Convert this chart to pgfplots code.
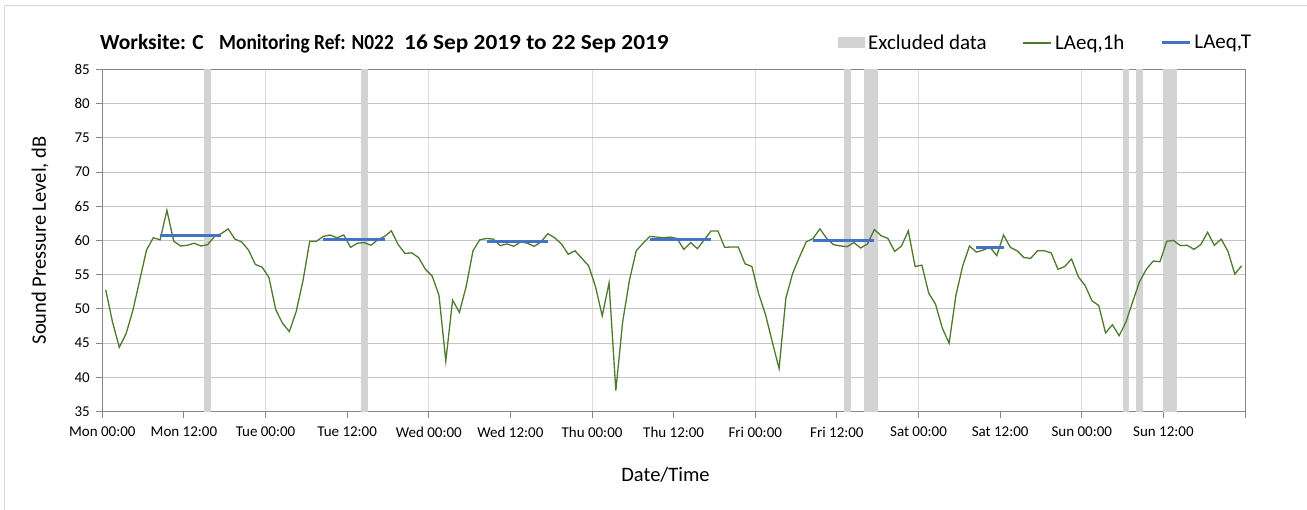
\documentclass[border=0pt]{standalone}
\usepackage{fontspec}
\setmainfont{Carlito}
\usepackage{pgfplots}
\pgfplotsset{compat=1.18}

\definecolor{lgreen}{HTML}{4E7A2C}
\definecolor{lblue}{HTML}{4472C4}
\definecolor{excl}{HTML}{D3D3D3}
\definecolor{hgrid}{HTML}{C4C4C4}
\definecolor{vgrid}{HTML}{DCDCDC}
\definecolor{axgray}{HTML}{868686}
\definecolor{frame}{HTML}{D9D9D9}

% hourly LAeq values, Mon 16 Sep 00:00 to Sun 22 Sep 24:00 (hour mid-points)
\pgfplotstableread{
h v
0.5 52.8
1.5 48.1
2.5 44.4
3.5 46.4
4.5 49.8
5.5 54.2
6.5 58.6
7.5 60.4
8.5 60.1
9.5 64.4
10.5 59.9
11.5 59.2
12.5 59.3
13.5 59.6
14.5 59.2
15.5 59.4
16.5 60.6
17.5 61.0
18.5 61.7
19.5 60.2
20.5 59.8
21.5 58.6
22.5 56.5
23.5 56.1
24.5 54.6
25.5 49.9
26.5 47.9
27.5 46.7
28.5 49.6
29.5 54.1
30.5 59.9
31.5 59.9
32.5 60.6
33.5 60.8
34.5 60.4
35.5 60.8
36.5 59.0
37.5 59.6
38.5 59.7
39.5 59.3
40.5 60.1
41.5 60.6
42.5 61.4
43.5 59.4
44.5 58.1
45.5 58.2
46.5 57.5
47.5 55.8
48.5 54.8
49.5 52.0
50.5 42.4
51.5 51.3
52.5 49.5
53.5 53.3
54.5 58.5
55.5 60.1
56.5 60.3
57.5 60.2
58.5 59.25
59.5 59.5
60.5 59.15
61.5 59.8
62.5 59.6
63.5 59.15
64.5 59.8
65.5 61.0
66.5 60.4
67.5 59.5
68.5 58.0
69.5 58.5
70.5 57.4
71.5 56.3
72.5 53.3
73.5 49.0
74.5 53.8
75.5 38.1
76.5 48.1
77.5 54.2
78.5 58.5
79.5 59.6
80.5 60.6
81.5 60.5
82.5 60.4
83.5 60.5
84.5 60.3
85.5 58.7
86.5 59.7
87.5 58.8
88.5 60.1
89.5 61.4
90.5 61.4
91.5 59.0
92.5 59.05
93.5 59.05
94.5 56.6
95.5 56.2
96.5 52.2
97.5 49.2
98.5 45.2
99.5 41.3
100.5 51.6
101.5 55.2
102.5 57.6
103.5 59.8
104.5 60.3
105.5 61.7
106.5 60.3
107.5 59.4
108.5 59.2
109.5 59.1
110.5 59.7
111.5 58.9
112.5 59.5
113.5 61.6
114.5 60.7
115.5 60.3
116.5 58.4
117.5 59.2
118.5 61.4
119.5 56.2
120.5 56.4
121.5 52.3
122.5 50.7
123.5 47.2
124.5 45.0
125.5 52.0
126.5 56.3
127.5 59.2
128.5 58.3
129.5 58.6
130.5 59.0
131.5 57.8
132.5 60.8
133.5 59.0
134.5 58.5
135.5 57.5
136.5 57.4
137.5 58.5
138.5 58.5
139.5 58.2
140.5 55.8
141.5 56.2
142.5 57.3
143.5 54.7
144.5 53.4
145.5 51.2
146.5 50.5
147.5 46.5
148.5 47.7
149.5 46.1
150.5 48.1
151.5 51.1
152.5 54.0
153.5 55.8
154.5 57.0
155.5 56.9
156.5 59.9
157.5 60.0
158.5 59.25
159.5 59.3
160.5 58.7
161.5 59.4
162.5 61.2
163.5 59.3
164.5 60.2
165.5 58.4
166.5 55.1
167.5 56.3
}\laeqhour

\begin{document}
\begin{tikzpicture}
\path[use as bounding box] (-102.3pt,-98.3pt) rectangle (1204.7pt,411.7pt);
\draw[frame, line width=1pt] (-97.3pt,-100pt) -- (-97.3pt,405.7pt) -- (1210pt,405.7pt);

\begin{axis}[
    at={(0pt,0pt)}, anchor=south west,
    scale only axis,
    width=1142.7pt, height=342.4pt,
    xmin=0, xmax=168, ymin=35, ymax=85,
    xtick={0,12,...,168},
    xticklabels={Mon 00:00,Mon 12:00,Tue 00:00,Tue 12:00,Wed 00:00,Wed 12:00,Thu 00:00,Thu 12:00,Fri 00:00,Fri 12:00,Sat 00:00,Sat 12:00,Sun 00:00,Sun 12:00,{}},
    minor xtick={24,48,...,144},
    ytick={35,40,...,85},
    xtick pos=bottom, ytick pos=left,
    tick align=outside,
    major tick length=6pt, minor tick length=0pt,
    ymajorgrids, xminorgrids,
    major grid style={hgrid, line width=1pt},
    minor grid style={vgrid, line width=1pt},
    axis line style={axgray, line width=1pt},
    every tick/.style={axgray, line width=1pt},
    /pgf/number format/assume math mode=true,
    ticklabel style={font=\fontsize{15}{18}\selectfont},
    xticklabel style={yshift=-6pt},
    yticklabel style={xshift=-3pt},
    legend columns=3,
    legend style={
        at={(0.6438,1.0768)}, anchor=west,
        draw=none, fill=none,
        font=\fontsize{21}{25}\selectfont,
        inner sep=0pt,
        nodes={inner sep=3pt},
        column sep=0pt,
        /tikz/every even column/.append style={column sep=33pt},
    },
    legend cell align=left,
]
\addplot[fill=excl, draw=none,
    legend image code/.code={\fill[excl] (0pt,-5.5pt) rectangle (27pt,5.5pt);}]
    coordinates {(15,35) (15,85) (16,85) (16,35)};
\addlegendentry{Excluded data}
\addplot[fill=excl, draw=none, forget plot] coordinates {(38,35) (38,85) (39,85) (39,35)};
\addplot[fill=excl, draw=none, forget plot] coordinates {(109,35) (109,85) (110,85) (110,35)};
\addplot[fill=excl, draw=none, forget plot] coordinates {(112,35) (112,85) (114,85) (114,35)};
\addplot[fill=excl, draw=none, forget plot] coordinates {(150,35) (150,85) (151,85) (151,35)};
\addplot[fill=excl, draw=none, forget plot] coordinates {(152,35) (152,85) (153,85) (153,35)};
\addplot[fill=excl, draw=none, forget plot] coordinates {(156,35) (156,85) (158,85) (158,35)};

\addplot[lgreen, line width=1.3pt, no marks,
    legend image code/.code={\draw[lgreen, line width=1.3pt] (0pt,0pt) -- (28pt,0pt);}]
    table[x=h, y=v] {\laeqhour};
\addlegendentry{LAeq,1h}

\addplot[lblue, line width=3.2pt, no marks, unbounded coords=jump,
    legend image code/.code={\draw[lblue, line width=3pt] (0pt,0pt) -- (28pt,0pt);}]
    coordinates {
    (8.5,60.75) (17.5,60.75) (17.5,nan)
    (32.5,60.1) (41.5,60.1) (41.5,nan)
    (56.5,59.8) (65.5,59.8) (65.5,nan)
    (80.5,60.1) (89.5,60.1) (89.5,nan)
    (104.5,60.0) (113.5,60.0) (113.5,nan)
    (128.5,59.0) (132.5,59.0)
    };
\addlegendentry{LAeq,T}
\end{axis}

\begin{scope}[every node/.style={inner sep=0pt, anchor=base west, font=\fontsize{21.5}{26}\selectfont\bfseries}]
\node at (-2.3pt,361.7pt) {Worksite: C};
\node[xscale=0.9] at (116.7pt,361.7pt) {Monitoring Ref: N022};
\node[xscale=1.085] at (301.7pt,361.7pt) {16 Sep 2019 to 22 Sep 2019};
\end{scope}
\node[inner sep=0pt, anchor=base, font=\fontsize{20.5}{24}\selectfont] at (563.2pt,-69.8pt) {Date/Time};
\node[inner sep=0pt, anchor=base, rotate=90, font=\fontsize{20.5}{24}\selectfont] at (-56.3pt,171.2pt) {Sound Pressure Level, dB};
\end{tikzpicture}
\end{document}
